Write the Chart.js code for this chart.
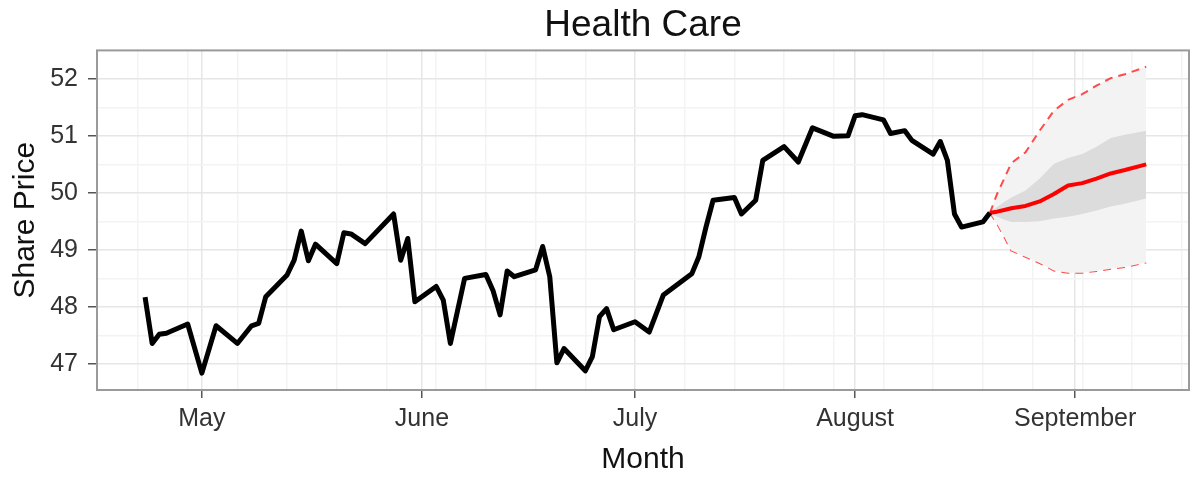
<!DOCTYPE html>
<html>
<head>
<meta charset="utf-8">
<title>Health Care</title>
<script src="https://cdn.jsdelivr.net/npm/chart.js@4.4.1/dist/chart.umd.min.js"></script>
<style>
  html, body { margin: 0; padding: 0; background: #fff; }
  #wrap { width: 1191px; height: 478px; }
</style>
</head>
<body>
<div id="wrap"><canvas id="chart" width="1191" height="478"></canvas></div>
<script>
// Cours observé (jours de bourse 2013)
const histDates = [
  '2013-04-23', '2013-04-24', '2013-04-25', '2013-04-26', '2013-04-29', '2013-05-01',
  '2013-05-03', '2013-05-06', '2013-05-08', '2013-05-09', '2013-05-10', '2013-05-13',
  '2013-05-14', '2013-05-15', '2013-05-16', '2013-05-17', '2013-05-20', '2013-05-21',
  '2013-05-22', '2013-05-24', '2013-05-28', '2013-05-29', '2013-05-30', '2013-05-31',
  '2013-06-03', '2013-06-04', '2013-06-05', '2013-06-07', '2013-06-10', '2013-06-11',
  '2013-06-12', '2013-06-13', '2013-06-14', '2013-06-17', '2013-06-18', '2013-06-19',
  '2013-06-20', '2013-06-21', '2013-06-24', '2013-06-25', '2013-06-26', '2013-06-27',
  '2013-06-28', '2013-07-01', '2013-07-03', '2013-07-05', '2013-07-09', '2013-07-10',
  '2013-07-11', '2013-07-12', '2013-07-15', '2013-07-16', '2013-07-18', '2013-07-19',
  '2013-07-22', '2013-07-24', '2013-07-26', '2013-07-29', '2013-07-31', '2013-08-01',
  '2013-08-02', '2013-08-05', '2013-08-06', '2013-08-08', '2013-08-09', '2013-08-12',
  '2013-08-13', '2013-08-14', '2013-08-15', '2013-08-16', '2013-08-19', '2013-08-20'
];
const histPrice = [
  48.17, 47.36, 47.52, 47.54, 47.70, 46.84,
  47.67, 47.36, 47.67, 47.71, 48.18, 48.56,
  48.82, 49.33, 48.81, 49.10, 48.76, 49.30,
  49.28, 49.11, 49.63, 48.82, 49.20, 48.09,
  48.36, 48.12, 47.36, 48.50, 48.57, 48.29,
  47.86, 48.63, 48.53, 48.65, 49.06, 48.53,
  47.02, 47.27, 46.88, 47.13, 47.83, 47.97,
  47.60, 47.74, 47.56, 48.21, 48.58, 48.88,
  49.40, 49.87, 49.92, 49.63, 49.87, 50.57,
  50.81, 50.54, 51.14, 50.99, 51.00, 51.35,
  51.37, 51.28, 51.04, 51.09, 50.92, 50.68,
  50.90, 50.57, 49.63, 49.40, 49.49, 49.65
];

// Prévision avec intervalles 80 % et 95 %
const fcDates = [
  '2013-08-20', '2013-08-21', '2013-08-22', '2013-08-23', '2013-08-25', '2013-08-27',
  '2013-08-29', '2013-08-31', '2013-09-02', '2013-09-04', '2013-09-06', '2013-09-08',
  '2013-09-11'
];
const fcMean = [49.65, 49.67, 49.70, 49.73, 49.77, 49.85, 49.98, 50.13, 50.17, 50.25, 50.34, 50.40, 50.50];
const fcLo80 = [49.65, 49.58, 49.53, 49.49, 49.49, 49.50, 49.55, 49.58, 49.63, 49.69, 49.76, 49.81, 49.90];
const fcHi80 = [49.65, 49.75, 49.84, 49.92, 50.04, 50.25, 50.51, 50.61, 50.68, 50.81, 50.96, 51.02, 51.09];
const fcLo95 = [49.65, 49.46, 49.23, 48.99, 48.88, 48.77, 48.64, 48.60, 48.60, 48.63, 48.67, 48.70, 48.78];
const fcHi95 = [49.65, 49.98, 50.25, 50.52, 50.71, 51.09, 51.44, 51.63, 51.73, 51.88, 52.01, 52.08, 52.21];

// Axes
const monthDates = ['2013-05-01', '2013-06-01', '2013-07-01', '2013-08-01', '2013-09-01'];
const monthLabels = ['May', 'June', 'July', 'August', 'September'];
const yTicks = [47, 48, 49, 50, 51, 52];

// jours depuis le 1er mai
const ORIGIN = Date.UTC(2013, 4, 1);
function dayNum(s) {
  const p = s.split('-').map(Number);
  return (Date.UTC(p[0], p[1] - 1, p[2]) - ORIGIN) / 86400000;
}
const pts = (dates, vals) => dates.map((d, i) => ({ x: dayNum(d), y: vals[i] }));

const X_MIN = -14.77, X_MAX = 139.03;
const Y_MIN = 46.544, Y_MAX = 52.497;

const monthDays = monthDates.map(dayNum);
// grille secondaire hebdomadaire (lundis) comme ggplot
const xTickVals = monthDays.slice();
for (let d = dayNum('2013-04-22'); d <= X_MAX; d += 7) {
  if (!xTickVals.includes(d)) xTickVals.push(d);
}
xTickVals.sort((a, b) => a - b);

const yTickVals = [];
yTicks.forEach(v => { yTickVals.push(v); yTickVals.push(v + 0.5); });
if (yTicks[0] - 0.5 >= Y_MIN) yTickVals.push(yTicks[0] - 0.5);

const FONT = '"Liberation Sans", Arial, Helvetica, sans-serif';
const MAJOR = '#e6e6e6', MINOR = '#f3f3f3';

const panelBorder = {
  id: 'panelBorder',
  afterDraw(chart) {
    const { ctx, chartArea: a } = chart;
    ctx.save();
    ctx.strokeStyle = '#9a9a9a';
    ctx.lineWidth = 2;
    ctx.strokeRect(a.left, a.top, a.right - a.left, a.bottom - a.top);
    ctx.restore();
  }
};

new Chart(document.getElementById('chart'), {
  type: 'line',
  data: {
    datasets: [
      {
        data: pts(histDates, histPrice),
        borderColor: '#000', borderWidth: 5, borderJoinStyle: 'round',
        pointRadius: 0, fill: false, order: 0
      },
      {
        data: pts(fcDates, fcMean),
        borderColor: '#ff0000', borderWidth: 4, borderJoinStyle: 'round',
        pointRadius: 0, fill: false, order: 0
      },
      {
        data: pts(fcDates, fcHi80),
        borderWidth: 0, borderColor: 'rgba(0,0,0,0)',
        backgroundColor: '#dcdcdc', pointRadius: 0, fill: 3, order: 2
      },
      {
        data: pts(fcDates, fcLo80),
        borderWidth: 0, borderColor: 'rgba(0,0,0,0)',
        pointRadius: 0, fill: false, order: 2
      },
      {
        data: pts(fcDates, fcHi95),
        borderColor: '#ff4a4a', borderWidth: 2, borderDash: [8, 6],
        backgroundColor: '#f3f3f3', pointRadius: 0, fill: 5, order: 3
      },
      {
        data: pts(fcDates, fcLo95),
        borderColor: '#ff4a4a', borderWidth: 2, borderDash: [8, 6],
        pointRadius: 0, fill: false, order: 3
      }
    ]
  },
  options: {
    responsive: false,
    animation: false,
    devicePixelRatio: 1,
    layout: { padding: { top: 0, right: 2, bottom: 0, left: 0 } },
    plugins: {
      legend: { display: false },
      tooltip: { enabled: false },
      title: {
        display: true,
        text: 'Health Care',
        fullSize: false,
        color: '#111',
        font: { family: FONT, size: 37, weight: 'normal' },
        padding: { top: 4, bottom: 2 }
      }
    },
    scales: {
      x: {
        type: 'linear',
        min: X_MIN, max: X_MAX,
        afterBuildTicks: s => { s.ticks = xTickVals.filter(v => v >= X_MIN && v <= X_MAX).map(v => ({ value: v })); },
        afterFit: s => { s.height = 88; },
        border: { display: false },
        grid: {
          color: c => (c.tick && monthDays.includes(c.tick.value)) ? MAJOR : MINOR,
          lineWidth: 1.5,
          tickLength: 8,
          tickWidth: 1.5,
          tickColor: c => (c.tick && monthDays.includes(c.tick.value)) ? '#555' : 'rgba(0,0,0,0)'
        },
        ticks: {
          autoSkip: false, maxRotation: 0, padding: 6,
          color: '#333',
          font: { family: FONT, size: 25 },
          callback: v => { const i = monthDays.indexOf(v); return i >= 0 ? monthLabels[i] : ''; }
        },
        title: {
          display: true, text: 'Month', color: '#111',
          font: { family: FONT, size: 30 },
          padding: { top: 0, bottom: 0 }
        }
      },
      y: {
        min: Y_MIN, max: Y_MAX,
        afterBuildTicks: s => { s.ticks = yTickVals.filter(v => v >= Y_MIN && v <= Y_MAX).sort((a, b) => a - b).map(v => ({ value: v })); },
        afterFit: s => { s.width = 97; },
        border: { display: false },
        grid: {
          color: c => (c.tick && yTicks.includes(c.tick.value)) ? MAJOR : MINOR,
          lineWidth: 1.5,
          tickLength: 9,
          tickWidth: 1.5,
          tickColor: c => (c.tick && yTicks.includes(c.tick.value)) ? '#555' : 'rgba(0,0,0,0)'
        },
        ticks: {
          autoSkip: false, padding: 10,
          color: '#333',
          font: { family: FONT, size: 25 },
          callback: v => yTicks.includes(v) ? String(v) : ''
        },
        title: {
          display: true, text: 'Share Price', color: '#111',
          font: { family: FONT, size: 30 },
          padding: { top: 8, bottom: 0 }
        }
      }
    }
  },
  plugins: [panelBorder]
});
</script>
</body>
</html>
